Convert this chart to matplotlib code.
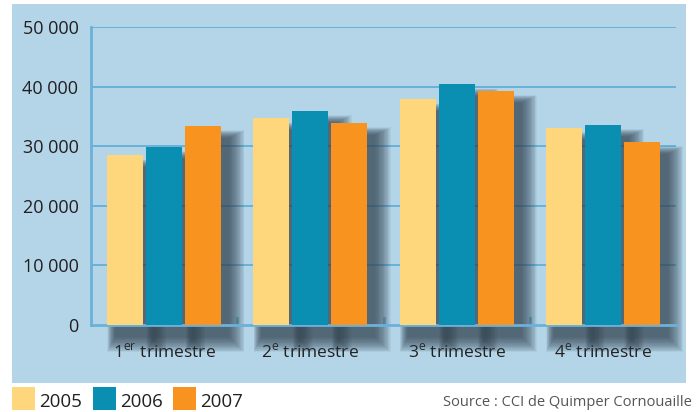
import matplotlib
matplotlib.use("Agg")
from matplotlib import pyplot as plt
from matplotlib.patches import Rectangle

# data
quarters = ["1$^{\\mathrm{er}}$ trimestre", "2$^{\\mathrm{e}}$ trimestre",
            "3$^{\\mathrm{e}}$ trimestre", "4$^{\\mathrm{e}}$ trimestre"]
years = ["2005", "2006", "2007"]
v2005 = [28500, 34700, 37900, 33100]
v2006 = [29900, 35900, 40400, 33600]
v2007 = [33400, 33900, 39300, 30700]
colors = ["#fed67c", "#0a8fb3", "#f7931e"]

plt.rcParams['font.family'] = ['Open Sans', 'DejaVu Sans']
plt.rcParams['mathtext.fontset'] = 'custom'
plt.rcParams['mathtext.rm'] = 'Open Sans'

W, H = 696, 412
fig = plt.figure(figsize=(W / 100, H / 100), dpi=100)
fig.patch.set_facecolor("white")

# light blue panel
fig.add_artist(Rectangle((12 / W, 1 - 383 / H), (686 - 12) / W, (383 - 4) / H,
                         transform=fig.transFigure, facecolor="#b3d5e7",
                         edgecolor="none", zorder=0))

left, right, top, bottom = 91, 676, 27, 325
ax = fig.add_axes([left / W, 1 - bottom / H, (right - left) / W, (bottom - top) / H])
ax.set_facecolor("none")
ax.set_xlim(-0.5, 3.5)
ax.set_ylim(0, 50000)

line_col = "#6bb1d8"
for y in range(10000, 50001, 10000):
    ax.axhline(y, color=line_col, lw=1.4, zorder=1)

px_x = 1 / 146.0         # data units per pixel in x
px_y = 50000 / 298.0     # data units per pixel in y
step = 39 * px_x
width = 36 * px_x

series = [v2005, v2006, v2007]
# soft drop shadows, offset right and down (stacked translucent rects)
dx, dy = 8, 12
for i, vals in enumerate(series):
    for q, v in enumerate(vals):
        xc = q + (i - 1) * step
        for k in range(20):
            e = k * 0.8
            x0 = xc - width / 2 + (dx - 0.5 * e) * px_x
            y0 = -(dy + e) * px_y
            ax.add_patch(Rectangle((x0, y0), width + 1.5 * e * px_x,
                                   v + 1.5 * e * px_y,
                                   facecolor="#33434f", edgecolor="none", alpha=0.06,
                                   zorder=2, clip_on=False))

for i, vals in enumerate(series):
    xs = [q + (i - 1) * step for q in range(len(vals))]
    ax.bar(xs, vals, width=width, color=colors[i], zorder=3)

for s in ["top", "right"]:
    ax.spines[s].set_visible(False)
ax.spines["left"].set_color(line_col)
ax.spines["left"].set_linewidth(2)
ax.spines["bottom"].set_color(line_col)
ax.spines["bottom"].set_linewidth(2)
for xb in [0.5, 1.5, 2.5]:
    ax.plot([xb, xb], [0, 7 * px_y], color=line_col, lw=2, zorder=1)

ax.set_yticks(range(0, 50001, 10000))
ax.set_yticklabels([f"{v // 1000} 000" if v else "0" for v in range(0, 50001, 10000)],
                   fontsize=13, color="#231f20")
ax.set_xticks(range(4))
ax.set_xticklabels(quarters, fontsize=12.5, color="#231f20")
ax.tick_params(axis="both", length=0)
ax.tick_params(axis="y", pad=9)
ax.tick_params(axis="x", pad=13)

# legend at the bottom left
lx = [12, 93, 173]
for i, y in enumerate(years):
    fig.add_artist(Rectangle((lx[i] / W, 1 - 410 / H), 23 / W, 23 / H,
                             transform=fig.transFigure, facecolor=colors[i],
                             edgecolor="none"))
    fig.text((lx[i] + 27) / W, 1 - 402 / H, y, fontsize=13.5, color="#231f20",
             va="center", ha="left")

fig.text(692 / W, 1 - 403 / H, "Source : CCI de Quimper Cornouaille",
         fontsize=10.5, color="#555555", ha="right", va="center")

fig.savefig("out.png", dpi=100)
